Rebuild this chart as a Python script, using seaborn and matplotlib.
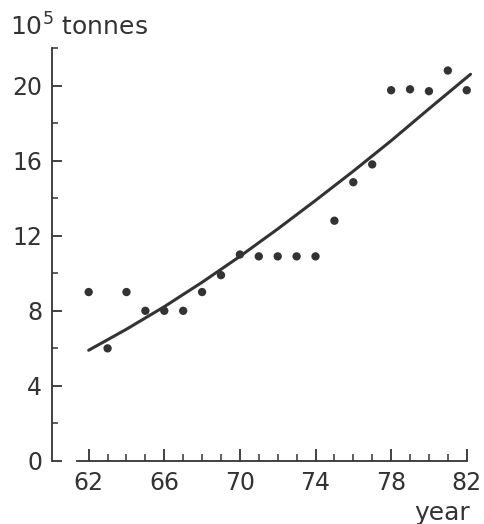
import numpy as np
import pandas as pd
import matplotlib
matplotlib.use("Agg")
import matplotlib.pyplot as plt
import seaborn as sns
from matplotlib.ticker import FixedLocator

# observed values, 10^5 tonnes
years = [62, 63, 64, 65, 66, 67, 68, 69, 70, 71, 72, 73, 74, 75, 76, 77, 78, 79, 80, 81, 82]
tonnes = [9.0, 6.0, 9.0, 8.0, 8.0, 8.0, 9.0, 9.9, 11.0, 10.9, 10.9, 10.9, 10.9,
          12.8, 14.85, 15.8, 19.75, 19.8, 19.7, 20.8, 19.75]

# trend curve
curve_years = [62, 64, 66, 68, 70, 72, 74, 76, 78, 80, 82.2]
curve_vals = [5.9, 7.02, 8.22, 9.52, 10.9, 12.36, 13.88, 15.44, 17.06, 18.76, 20.6]

sns.set_style("ticks")
plt.rcParams['font.family'] = ['DejaVu Sans']
plt.rcParams['xtick.direction'] = 'in'
plt.rcParams['ytick.direction'] = 'in'
ink = "#333333"

fig = plt.figure(figsize=(4.84, 5.24), dpi=100)
ax = fig.add_axes([52/484, 63/524, 424/484, 413/524])

df = pd.DataFrame({"year": years, "tonnes": tonnes})
dfc = pd.DataFrame({"year": curve_years, "tonnes": curve_vals})
sns.lineplot(data=dfc, x="year", y="tonnes", ax=ax, color=ink, linewidth=2.2)
sns.scatterplot(data=df, x="year", y="tonnes", ax=ax, color=ink, s=36,
                edgecolor="none", zorder=3)

ax.set_xlim(60.06, 82.49)
ax.set_ylim(0, 22)
ax.spines["top"].set_visible(False)
ax.spines["right"].set_visible(False)
ax.spines["bottom"].set_bounds(61.4, 82)
ax.spines["left"].set_bounds(0, 22)
for s in ("left", "bottom"):
    ax.spines[s].set_linewidth(1.3)
    ax.spines[s].set_color(ink)

ax.set_xticks(range(62, 83, 4))
ax.xaxis.set_minor_locator(FixedLocator([y for y in range(63, 82)]))
ax.set_yticks(range(0, 21, 4))
ax.yaxis.set_minor_locator(FixedLocator([2, 6, 10, 14, 18, 22]))
ax.tick_params(axis="both", which="major", direction="in", width=1.3,
               color=ink, labelcolor=ink, labelsize=17)
ax.tick_params(axis="both", which="minor", direction="in", width=1.1, color=ink)
ax.tick_params(axis="x", which="major", length=9, pad=7)
ax.tick_params(axis="x", which="minor", length=5)
ax.tick_params(axis="y", which="major", length=7, pad=7)
ax.tick_params(axis="y", which="minor", length=4)
ax.set_xlabel("")
ax.set_ylabel("")

fig.text(10/484, 1 - 36/524, r"$\mathregular{10^5}$ tonnes", fontsize=18, color=ink,
         ha="left", va="baseline")
fig.text(470/484, 1 - 520/524, "year", fontsize=18, color=ink, ha="right", va="baseline")

plt.savefig("out.png", dpi=100)
